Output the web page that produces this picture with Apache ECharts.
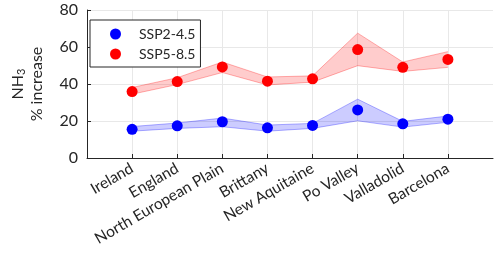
<!DOCTYPE html>
<html><head><meta charset="utf-8">
<script src="https://cdn.jsdelivr.net/npm/echarts@6/dist/echarts.min.js"></script>
<style>html,body{margin:0;padding:0;background:#fff}#c{width:500px;height:257px}</style>
</head><body><div id="c"></div>
<script>
const regions = ['Ireland','England','North European Plain','Brittany','New Aquitaine','Po Valley','Valladolid','Barcelona'];
const ssp245 = [15.5, 17.4, 19.6, 16.3, 17.6, 26.0, 18.5, 21.0];
const ssp245Lo = [14.5, 16.0, 16.9, 14.5, 16.0, 20.1, 16.7, 19.3];
const ssp245Hi = [17.0, 18.9, 21.6, 17.8, 18.7, 31.8, 19.8, 22.7];
const ssp585 = [35.9, 41.3, 49.2, 41.5, 42.8, 58.6, 49.0, 53.3];
const ssp585Lo = [34.5, 39.7, 46.2, 39.5, 41.0, 49.9, 46.8, 49.0];
const ssp585Hi = [38.1, 43.4, 51.9, 43.8, 44.4, 67.5, 51.9, 57.5];
const yTicks = [0, 20, 40, 60, 80];

const FONT = 'Lato';
const AX = '#262626';
// pad categories so the points sit one step in from each axis end
const cats = [''].concat(regions, ['']);
const pad = a => [null].concat(a, [null]);
const diff = (hi, lo) => hi.map((h, i) => +(h - lo[i]).toFixed(2));

function band(name, lo, hi, fill, edge) {
  return [
    { name: name + '_lo', type: 'line', stack: name, data: pad(lo), symbol: 'none',
      lineStyle: { color: edge, width: 1 }, silent: true, z: 1 },
    { name: name + '_hi', type: 'line', stack: name, data: pad(diff(hi, lo)), symbol: 'none',
      lineStyle: { color: edge, width: 1 }, areaStyle: { color: fill, opacity: 1 }, silent: true, z: 1 }
  ];
}

const chart = echarts.init(document.getElementById('c'), null, { renderer: 'canvas' });
chart.setOption({
  animation: false,
  textStyle: { fontFamily: FONT },
  grid: { left: 79, right: 7, top: 10, bottom: 99, containLabel: false },
  legend: {
    orient: 'vertical', left: 90, top: 20,
    data: ['SSP2-4.5', 'SSP5-8.5'],
    backgroundColor: '#fff', borderColor: AX, borderWidth: 1,
    padding: [7, 5, 6, 20], itemGap: 6, itemWidth: 11, itemHeight: 11,
    icon: 'circle',
    textStyle: { fontFamily: FONT, fontSize: 14, color: AX, padding: [0, 0, 0, 13] }
  },
  xAxis: {
    type: 'category', data: cats, boundaryGap: false,
    axisLine: { lineStyle: { color: AX, width: 1 } },
    axisTick: { inside: true, length: 4, lineStyle: { color: AX }, interval: (i, v) => v !== '' },
    splitLine: { show: true, interval: (i, v) => v !== '', lineStyle: { color: '#e8e8e8', width: 1 } },
    axisLabel: { rotate: 30, fontSize: 15.5, color: AX, fontFamily: FONT, interval: 0, margin: 9 }
  },
  yAxis: {
    type: 'value', min: 0, max: 80, interval: 20,
    axisLine: { show: true, lineStyle: { color: AX, width: 1 } },
    axisTick: { show: true, inside: true, length: 4, lineStyle: { color: AX } },
    splitLine: { show: true, lineStyle: { color: '#e8e8e8', width: 1 } },
    axisLabel: { fontSize: 16, color: AX, fontFamily: FONT, margin: 9,
      formatter: v => yTicks.includes(v) ? String(v) : '' },
    name: '{a|NH}{s|3}\n{a|% increase}',
    nameLocation: 'middle', nameGap: 41, nameRotate: 90,
    nameTextStyle: {
      color: AX, fontFamily: FONT, align: 'center',
      rich: {
        a: { fontSize: 16, color: AX, fontFamily: FONT, lineHeight: 19 },
        s: { fontSize: 11, color: AX, fontFamily: FONT, padding: [8, 0, 0, 0], lineHeight: 19 }
      }
    }
  },
  series: [].concat(
    band('b245', ssp245Lo, ssp245Hi, 'rgba(0,0,255,0.2)', 'rgba(0,0,255,0.3)'),
    band('b585', ssp585Lo, ssp585Hi, 'rgba(255,0,0,0.2)', 'rgba(255,0,0,0.3)'),
    [
      { name: 'SSP2-4.5', type: 'line', data: pad(ssp245), symbol: 'circle', symbolSize: 11,
        lineStyle: { width: 0, opacity: 0 }, itemStyle: { color: '#0000ff' }, z: 5 },
      { name: 'SSP5-8.5', type: 'line', data: pad(ssp585), symbol: 'circle', symbolSize: 11,
        lineStyle: { width: 0, opacity: 0 }, itemStyle: { color: '#ff0000' }, z: 5 }
    ]
  )
});
</script></body></html>
